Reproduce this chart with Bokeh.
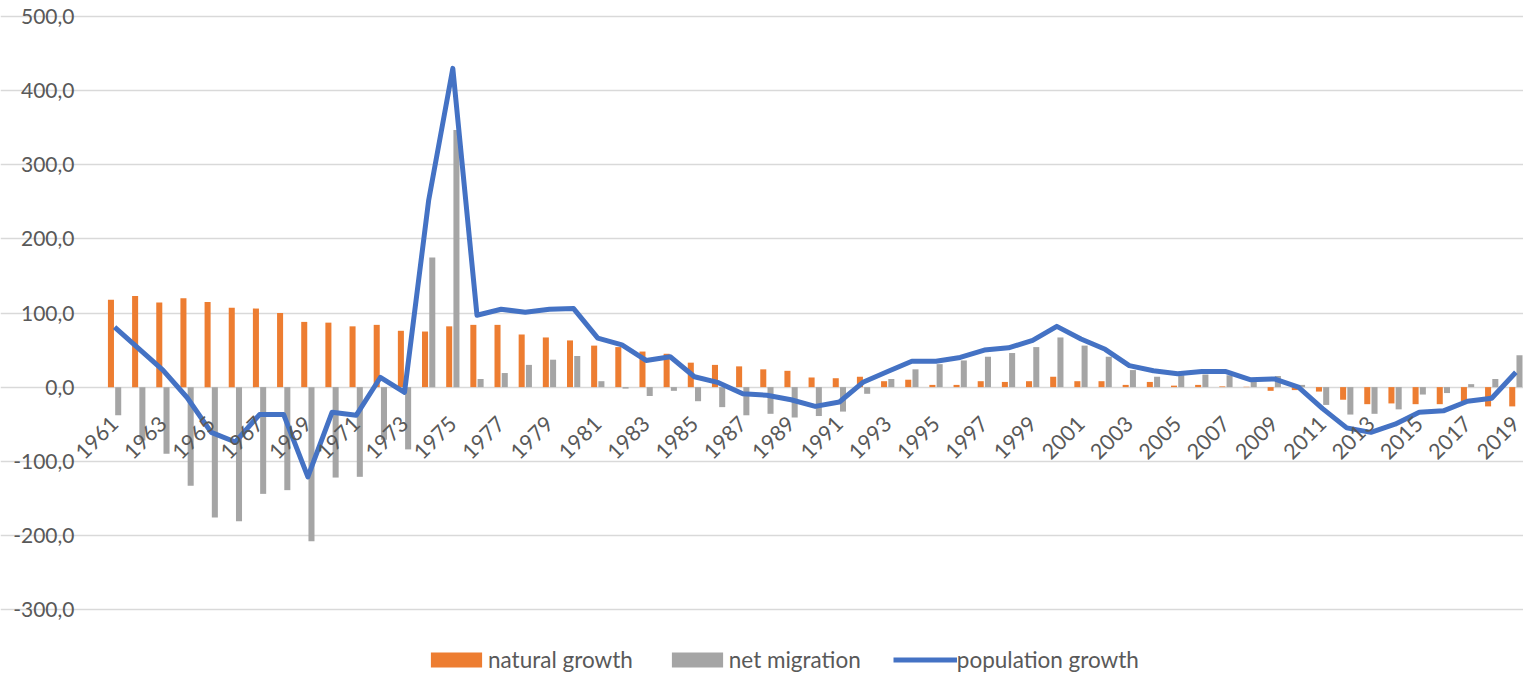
from math import pi

from bokeh.embed import file_html
from bokeh.models import (CustomJSTickFormatter, FixedTicker, Legend,
                          LegendItem, Range1d)
from bokeh.plotting import figure
from bokeh.resources import INLINE

# Annual components of population change (thousands)
years = list(range(1961, 2020))

natural_growth = [
    118, 123, 114, 120, 115, 107, 106, 100, 88, 87,
    82, 84, 76, 75, 82, 84, 84, 71, 67, 63,
    56, 54, 48, 45, 33, 30, 28, 24, 22, 13,
    12, 14, 8, 10, 3, 3, 8, 7, 8, 14,
    8, 8, 3, 7, 2, 3, 1, 0.5, -5, -4,
    -6, -17, -23, -22, -23, -23, -19, -26, -26,
]

net_migration = [
    -38, -72, -90, -133, -176, -181, -144, -139, -208, -122,
    -121, -71, -84, 175, 347, 11, 19, 30, 37, 42,
    8, -2, -12, -5, -19, -27, -38, -36, -41, -39,
    -33, -9, 11, 24, 31, 36, 41, 46, 54, 67,
    56, 41, 23, 14, 16, 17, 16, 7, 15, 3,
    -24, -37, -36, -30, -10, -8, 4, 11, 43,
]

population_growth = [
    81, 52, 23, -14, -61, -74, -37, -37, -121, -34,
    -38, 13, -7, 252, 430, 97, 105, 101, 105, 106,
    66, 57, 36, 41, 14, 6, -9, -11, -17, -26,
    -20, 7, 21, 35, 35, 40, 50, 53, 63, 82,
    65, 51, 29, 22, 18, 21, 21, 10, 11, 0,
    -29, -55, -61, -50, -34, -32, -19, -15, 20,
]

year_labels = list(range(1961, 2020, 2))
value_ticks = [-300, -200, -100, 0, 100, 200, 300, 400, 500]

ORANGE = "#ED7D31"
GREY = "#A5A5A5"
BLUE = "#4472C4"
TEXT = "#595959"
GRID = "#D9D9D9"
FONT = "Lato"

# page geometry (pixels): the plotting frame fills the whole page, the
# value axis and key are placed inside it so nothing gets clipped
WIDTH, HEIGHT = 1523, 674
PLOT_LEFT = 102                      # where the year bands begin
PLOT_TOP = 16                        # pixel row of the top gridline
BAND_PX = 24.16                      # pixel width of one year band
AXIS_PX = 593                        # pixel height of the -300..500 span

band_start = years[0] - 0.5
x_start = band_start - PLOT_LEFT / BAND_PX
x_end = band_start + (WIDTH - PLOT_LEFT) / BAND_PX

units_per_px = (value_ticks[-1] - value_ticks[0]) / AXIS_PX
y_top = value_ticks[-1] + PLOT_TOP * units_per_px
y_bottom = value_ticks[0] - (HEIGHT - PLOT_TOP - AXIS_PX) * units_per_px

p = figure(
    width=WIDTH, height=HEIGHT,
    x_range=Range1d(x_start, x_end),
    y_range=Range1d(y_bottom, y_top),
    output_backend="svg", toolbar_location=None,
    min_border_left=0, min_border_right=0,
    min_border_top=0, min_border_bottom=0,
)
p.outline_line_color = None
p.background_fill_color = "white"
p.border_fill_color = "white"

p.ygrid.ticker = FixedTicker(ticks=value_ticks)
p.ygrid.grid_line_color = GRID
p.ygrid.grid_line_width = 1.5
p.ygrid.bounds = (band_start, x_end)
p.xgrid.grid_line_color = None

# clustered columns: natural growth left, net migration right of each year
bar_w = 0.25
shift = 0.15
r_nat = p.vbar(x=[y - shift for y in years], top=natural_growth, bottom=0,
               width=bar_w, fill_color=ORANGE, line_color=None)
r_mig = p.vbar(x=[y + shift for y in years], top=net_migration, bottom=0,
               width=bar_w, fill_color=GREY, line_color=None)
r_pop = p.line(x=years, y=population_growth, line_color=BLUE, line_width=5,
               line_join="round", line_cap="butt")

# value axis with comma decimals, pinned to the start of the year bands
p.yaxis.fixed_location = band_start
p.yaxis.ticker = FixedTicker(ticks=value_ticks)
p.yaxis.formatter = CustomJSTickFormatter(
    code="return tick.toFixed(1).replace('.', ',')")
p.yaxis.axis_line_color = None
p.yaxis.major_tick_line_color = None
p.yaxis.minor_tick_line_color = None
p.yaxis.major_label_standoff = 22
p.yaxis.major_label_text_font = FONT
p.yaxis.major_label_text_font_size = "21px"
p.yaxis.major_label_text_color = TEXT

# year axis sits on the zero line, labels slanted
p.xaxis.fixed_location = 0
p.xaxis.ticker = FixedTicker(ticks=year_labels)
p.xaxis.major_label_orientation = pi / 4
p.xaxis.axis_line_color = None
p.xaxis.major_tick_line_color = None
p.xaxis.minor_tick_line_color = None
p.xaxis.major_label_standoff = 27
p.xaxis.major_label_text_font = FONT
p.xaxis.major_label_text_font_size = "21.5px"
p.xaxis.major_label_text_color = TEXT

legend = Legend(
    items=[
        LegendItem(label="natural growth", renderers=[r_nat]),
        LegendItem(label="net migration", renderers=[r_mig]),
        LegendItem(label="population growth", renderers=[r_pop]),
    ],
    orientation="horizontal",
    location=(424, 1),
    glyph_width=64, glyph_height=19,
    label_standoff=0, spacing=32,
    padding=0, margin=0,
    border_line_alpha=0, background_fill_alpha=0,
    label_text_font=FONT, label_text_font_size="22.5px",
    label_text_color=TEXT,
)
p.add_layout(legend, "center")

open("out.html", "w").write(file_html(p, INLINE))
